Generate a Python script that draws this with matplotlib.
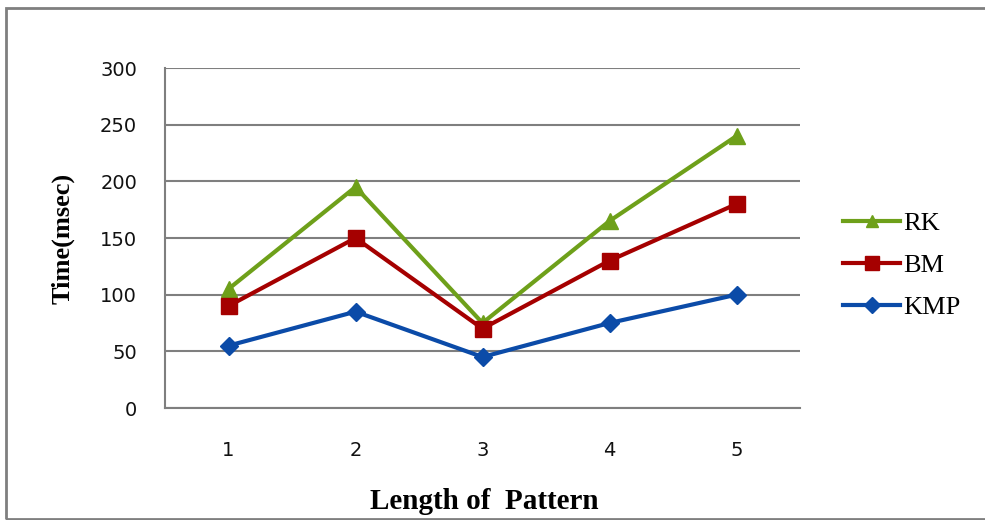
import matplotlib.pyplot as plt
from matplotlib.patches import Rectangle

# pattern lengths and timings (msec)
lengths = [1, 2, 3, 4, 5]
rk = [105, 195, 75, 165, 240]
bm = [90, 150, 70, 130, 180]
kmp = [55, 85, 45, 75, 100]
yticks = [0, 50, 100, 150, 200, 250, 300]

fig = plt.figure(figsize=(9.85, 5.2), dpi=100)
ax = fig.add_axes([165/985, 1 - 408/520, 635/985, 340/520])

ax.plot(lengths, rk, color='#6EA01A', lw=3, marker='^', ms=11, label='RK')
ax.plot(lengths, bm, color='#A50000', lw=3, marker='s', ms=12, label='BM')
ax.plot(lengths, kmp, color='#0B4BA8', lw=3, marker='D', ms=9, label='KMP')

ax.set_xlim(0.5, 5.5)
ax.set_ylim(0, 300)
ax.set_yticks(yticks)
ax.set_xticks(lengths)
ax.yaxis.grid(True, color='#7f7f7f', lw=1.5)
ax.set_axisbelow(True)
for s in ['top', 'right']:
    ax.spines[s].set_visible(False)
for s in ['left', 'bottom']:
    ax.spines[s].set_color('#7f7f7f')
    ax.spines[s].set_linewidth(1.5)
ax.tick_params(axis='y', length=0, pad=20, labelsize=14, labelcolor='#111111')
ax.tick_params(axis='x', length=0, pad=24, labelsize=14, labelcolor='#111111')
for t in ax.get_xticklabels() + ax.get_yticklabels():
    t.set_family('DejaVu Sans')

ax.set_xlabel('Length of  Pattern', family='Liberation Serif', fontsize=21,
              fontweight='bold')
ax.set_ylabel('Time(msec)', family='Liberation Serif', fontsize=19,
              fontweight='bold')
ax.xaxis.set_label_coords(0.503, -0.235)
ax.yaxis.set_label_coords(-0.142, 0.5)

leg = ax.legend(loc='center left', bbox_to_anchor=(1.068, 0.42), frameon=False,
                prop={'family': 'Liberation Serif', 'size': 19},
                handlelength=2.16, labelspacing=0.7, handletextpad=0.12,
                borderpad=0, borderaxespad=0, markerscale=0.85)

# outer frame (right edge falls outside the image)
fig.patches.append(Rectangle((6/985, 1/520), 1.1, 511/520, transform=fig.transFigure,
                             fill=False, edgecolor='#7f7f7f', lw=2))

fig.savefig('out.png', dpi=100)
